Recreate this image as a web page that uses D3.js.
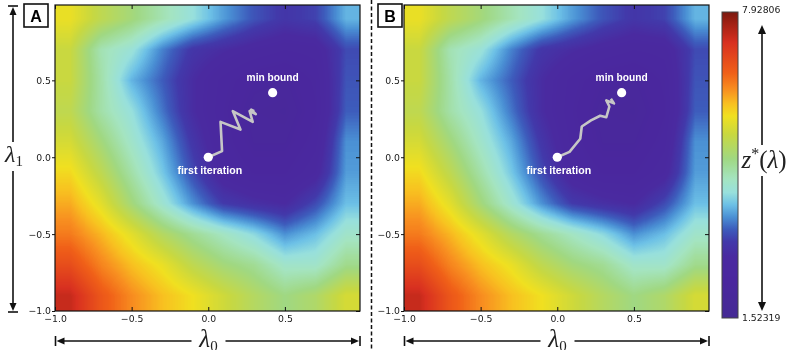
<!DOCTYPE html>
<html>
<head>
<meta charset="utf-8">
<script src="https://cdn.jsdelivr.net/npm/d3@7"></script>
<style>
  body { margin: 0; background: #fff; }
  #chart { position: relative; width: 788px; height: 350px; }
  #chart canvas, #chart svg { position: absolute; left: 0; top: 0; }
</style>
</head>
<body>
<div id="chart"></div>
<script>
// grid cell centres: lambda_0 left to right, lambda_1 top to bottom
const lambda0 = [-0.9, -0.7, -0.5, -0.3, -0.1, 0.1, 0.3, 0.5, 0.7, 0.9];
const lambda1 = [0.9, 0.7, 0.5, 0.3, 0.1, -0.1, -0.3, -0.5, -0.7, -0.9];

// z*(lambda), one row per lambda1 value
const zGrid = [
  [5.69, 5.24, 4.92, 4.53, 4.15, 3.70, 3.32, 3.06, 3.19, 3.83],
  [5.37, 4.53, 4.21, 3.57, 3.06, 2.86, 2.68, 2.55, 2.61, 3.25],
  [5.37, 4.60, 3.83, 3.38, 2.86, 2.48, 2.23, 2.16, 2.42, 3.32],
  [5.24, 4.60, 4.15, 3.51, 2.86, 2.42, 2.10, 2.04, 2.36, 3.38],
  [5.49, 4.92, 4.34, 3.77, 3.06, 2.48, 2.16, 2.16, 2.48, 3.64],
  [5.81, 5.24, 4.60, 3.96, 3.25, 2.61, 2.36, 2.36, 2.68, 3.70],
  [6.13, 5.62, 4.92, 4.28, 3.64, 3.12, 2.93, 2.80, 3.25, 3.89],
  [6.45, 6.07, 5.62, 5.11, 4.73, 4.41, 4.08, 3.64, 3.89, 4.34],
  [6.90, 6.39, 6.01, 5.69, 5.24, 4.92, 4.73, 4.34, 4.34, 4.79],
  [7.42, 6.78, 6.33, 6.01, 5.75, 5.43, 5.11, 4.85, 5.05, 5.49]
];
const zRange = [1.52319, 7.92806];
const tickValues = [-1.0, -0.5, 0.0, 0.5];

const firstIteration = [0, 0];
const minBound = [0.42, 0.42];

// optimisation paths (lambda0, lambda1)
const pathA0 = [0, 0.09, 0.08, 0.21, 0.16, 0.29, 0.27, 0.31, 0.28, 0.30];
const pathA1 = [0, 0.04, 0.23, 0.18, 0.30, 0.23, 0.30, 0.28, 0.31, 0.30];
const pathB0 = [0, 0.08, 0.15, 0.16, 0.22, 0.28, 0.32, 0.34, 0.32, 0.37, 0.35];
const pathB1 = [0, 0.035, 0.12, 0.20, 0.24, 0.27, 0.26, 0.33, 0.37, 0.35, 0.38];

// colour map (fraction of the colour bar, colour)
const cmapT = [0, 0.12, 0.20, 0.25, 0.29, 0.33, 0.37, 0.41, 0.455, 0.52, 0.60, 0.66, 0.70, 0.745, 0.80, 0.90, 0.97, 1];
const cmapColors = ["#452a94", "#4a279e", "#4a2aa0", "#4239aa", "#3d5cbc", "#4a90d4", "#6cc0e6",
                    "#98e0dc", "#a4e4c0", "#a0d882", "#c8d840", "#f0e020", "#f8c020", "#f89020",
                    "#f06018", "#d83020", "#9a1e12", "#7a1a10"];

const width = 788, height = 350;
const plotW = 305, plotTop = 5, plotBottom = 311;
const panels = [
  { label: "A", left: 55, boxX: 24, path: [pathA0, pathA1], yTitle: true },
  { label: "B", left: 404, boxX: 378, path: [pathB0, pathB1], yTitle: false }
];

const color = d3.scaleLinear()
  .domain(cmapT.map(t => zRange[0] + t * (zRange[1] - zRange[0])))
  .range(cmapColors)
  .clamp(true);

const root = d3.select("#chart");
const canvas = root.append("canvas").attr("width", width).attr("height", height);
const ctx = canvas.node().getContext("2d");
const svg = root.append("svg").attr("width", width).attr("height", height);

const lut = d3.range(512).map(i => d3.rgb(color(zRange[0] + i / 511 * (zRange[1] - zRange[0]))));
const ix = d3.scaleLinear().domain([lambda0[0], lambda0[lambda0.length - 1]]).range([0, lambda0.length - 1]).clamp(true);
const iy = d3.scaleLinear().domain([lambda1[0], lambda1[lambda1.length - 1]]).range([0, lambda1.length - 1]).clamp(true);

function zAt(l0, l1) {
  const fx = ix(l0), fy = iy(l1);
  const i = Math.min(Math.floor(fx), lambda0.length - 2);
  const j = Math.min(Math.floor(fy), lambda1.length - 2);
  const tx = fx - i, ty = fy - j;
  const top = zGrid[j][i] * (1 - tx) + zGrid[j][i + 1] * tx;
  const bot = zGrid[j + 1][i] * (1 - tx) + zGrid[j + 1][i + 1] * tx;
  return top * (1 - ty) + bot * ty;
}

function arrowHead(g, x, y, dx, dy, len, hw) {
  const px = -dy, py = dx;
  g.append("path")
    .attr("d", `M${x},${y}L${x - dx * len + px * hw},${y - dy * len + py * hw}L${x - dx * len - px * hw},${y - dy * len - py * hw}Z`)
    .attr("fill", "#111");
}

// line from (x1,y1) to (x2,y2) with a head at the far end, optional end bar
function arrow(g, x1, y1, x2, y2, bar, len, hw) {
  const d = Math.hypot(x2 - x1, y2 - y1), dx = (x2 - x1) / d, dy = (y2 - y1) / d;
  g.append("line")
    .attr("x1", x1).attr("y1", y1)
    .attr("x2", x2 - dx * len * 0.6).attr("y2", y2 - dy * len * 0.6)
    .attr("stroke", "#111").attr("stroke-width", 1.6);
  arrowHead(g, x2, y2, dx, dy, len, hw);
  if (bar) {
    g.append("line")
      .attr("x1", x2 + dx * 1 - dy * 5).attr("y1", y2 + dy * 1 + dx * 5)
      .attr("x2", x2 + dx * 1 + dy * 5).attr("y2", y2 + dy * 1 - dx * 5)
      .attr("stroke", "#111").attr("stroke-width", 1.6);
  }
}

const fmt = d3.format(".1f");

panels.forEach(p => {
  const x = d3.scaleLinear().domain([-1, 0.99]).range([p.left, p.left + plotW]);
  const y = d3.scaleLinear().domain([-1, 0.99]).range([plotBottom, plotTop]);

  // heat map
  const w = plotW, h = plotBottom - plotTop;
  const img = ctx.createImageData(w, h);
  for (let r = 0; r < h; r++) {
    for (let c = 0; c < w; c++) {
      const v = zAt(x.invert(p.left + c + 0.5), y.invert(plotTop + r + 0.5));
      const k = Math.max(0, Math.min(511, Math.round((v - zRange[0]) / (zRange[1] - zRange[0]) * 511)));
      const col = lut[k];
      const o = (r * w + c) * 4;
      img.data[o] = col.r; img.data[o + 1] = col.g; img.data[o + 2] = col.b; img.data[o + 3] = 255;
    }
  }
  ctx.putImageData(img, p.left, plotTop);

  const g = svg.append("g");

  // axes
  const styleAxis = a => {
    a.select(".domain").remove();
    a.attr("font-family", "DejaVu Sans").attr("font-size", 9.3).attr("color", "#111");
    a.selectAll("text").attr("fill", "#1a1a1a");
  };
  g.append("g").attr("transform", `translate(0,${plotBottom})`)
    .call(d3.axisBottom(x).tickValues(tickValues).tickFormat(fmt).tickSize(-4).tickPadding(4.3))
    .call(styleAxis);
  g.append("g").attr("transform", `translate(${p.left},0)`)
    .call(d3.axisLeft(y).tickValues(tickValues).tickFormat(fmt).tickSize(3).tickPadding(1))
    .call(styleAxis);
  g.append("g").attr("transform", `translate(0,${plotTop})`)
    .call(d3.axisTop(x).tickValues(tickValues).tickFormat("").tickSize(-4))
    .call(styleAxis);
  g.append("g").attr("transform", `translate(${p.left + plotW},0)`)
    .call(d3.axisRight(y).tickValues(tickValues).tickFormat("").tickSize(-4))
    .call(styleAxis);

  g.append("rect")
    .attr("x", p.left).attr("y", plotTop)
    .attr("width", plotW).attr("height", plotBottom - plotTop)
    .attr("fill", "none").attr("stroke", "#111").attr("stroke-width", 1.2);

  // optimisation path
  const [p0, p1] = p.path;
  g.append("path")
    .datum(d3.range(p0.length))
    .attr("d", d3.line().x(i => x(p0[i])).y(i => y(p1[i])))
    .attr("fill", "none").attr("stroke", "#c6c6c6")
    .attr("stroke-width", 2.6).attr("stroke-linejoin", "round");

  g.selectAll("circle.pt")
    .data([firstIteration, minBound])
    .join("circle").attr("class", "pt")
    .attr("cx", d => x(d[0])).attr("cy", d => y(d[1]))
    .attr("r", 4.6).attr("fill", "#fff");

  const ann = g.append("g")
    .attr("font-family", "Liberation Sans, Arial, sans-serif")
    .attr("font-weight", "bold").attr("fill", "#fff")
    .attr("text-anchor", "middle");
  ann.append("text")
    .attr("x", x(minBound[0])).attr("y", y(minBound[1]) - 11.5)
    .attr("font-size", 10.2).text("min bound");
  ann.append("text")
    .attr("x", x(firstIteration[0]) + 1.5).attr("y", y(firstIteration[1]) + 17)
    .attr("font-size", 10.6).text("first iteration");

  // panel letter
  g.append("rect")
    .attr("x", p.boxX).attr("y", 4).attr("width", 24).attr("height", 23)
    .attr("fill", "#fff").attr("stroke", "#111").attr("stroke-width", 1.6);
  g.append("text")
    .attr("x", p.boxX + 12).attr("y", 21.5)
    .attr("text-anchor", "middle")
    .attr("font-family", "Liberation Sans, Arial, sans-serif")
    .attr("font-weight", "bold").attr("font-size", 16)
    .text(p.label);

  // lambda_0 arrow
  const cx = (x.range()[0] + x.range()[1]) / 2;
  arrow(g, cx - 16, 341, x.range()[0] + 1.5, 341, true, 8, 3.5);
  arrow(g, cx + 18, 341, x.range()[1] - 1, 341, true, 8, 3.5);
  const t0 = g.append("text")
    .attr("x", cx + 1).attr("y", 347)
    .attr("text-anchor", "middle")
    .attr("font-family", "Liberation Serif, DejaVu Serif, serif")
    .attr("font-size", 25).attr("fill", "#222");
  t0.append("tspan").attr("font-style", "italic").text("λ");
  t0.append("tspan").attr("font-size", 15).attr("dy", 4).text("0");

  if (p.yTitle) {
    arrow(g, 13, 142, 13, plotTop + 2, true, 8, 3.5);
    arrow(g, 13, 171, 13, plotBottom, true, 8, 3.5);
    const t1 = g.append("text")
      .attr("x", 14).attr("y", 162)
      .attr("text-anchor", "middle")
      .attr("font-family", "Liberation Serif, DejaVu Serif, serif")
      .attr("font-size", 24).attr("fill", "#222");
    t1.append("tspan").attr("font-style", "italic").text("λ");
    t1.append("tspan").attr("font-size", 15).attr("dy", 4).text("1");
  }
});

// dashed separator
svg.append("line")
  .attr("x1", 371.5).attr("x2", 371.5).attr("y1", 0).attr("y2", height)
  .attr("stroke", "#111").attr("stroke-width", 1.5)
  .attr("stroke-dasharray", "4,2.5");

// colour bar
const cbX = 722, cbW = 16;
const cbY = d3.scaleLinear().domain(zRange).range([318, 12]);
const grad = svg.append("defs").append("linearGradient")
  .attr("id", "cb").attr("x1", 0).attr("x2", 0).attr("y1", 1).attr("y2", 0);
grad.selectAll("stop")
  .data(d3.range(0, 1.0001, 0.01))
  .join("stop")
  .attr("offset", t => t)
  .attr("stop-color", t => color(zRange[0] + t * (zRange[1] - zRange[0])));
svg.append("rect")
  .attr("x", cbX).attr("y", cbY(zRange[1]))
  .attr("width", cbW).attr("height", cbY(zRange[0]) - cbY(zRange[1]))
  .attr("fill", "url(#cb)").attr("stroke", "#444").attr("stroke-width", 1);
const cbFmt = d3.format(".5f");
svg.selectAll("text.cbl")
  .data(zRange)
  .join("text").attr("class", "cbl")
  .attr("x", cbX + cbW + 4).attr("y", d => cbY(d))
  .attr("dy", d => d === zRange[1] ? "0.15em" : "0.35em")
  .attr("font-family", "DejaVu Sans").attr("font-size", 9.3).attr("fill", "#1a1a1a")
  .text(d => cbFmt(d));

const cbg = svg.append("g");
arrow(cbg, 762, 145, 762, 25, false, 9, 4);
arrow(cbg, 762, 176, 762, 311, false, 9, 4);
const zl = cbg.append("text")
  .attr("x", 764).attr("y", 168)
  .attr("text-anchor", "middle")
  .attr("font-family", "Liberation Serif, DejaVu Serif, serif")
  .attr("font-size", 25).attr("fill", "#222");
zl.append("tspan").attr("font-style", "italic").text("z");
zl.append("tspan").attr("font-size", 16).attr("dy", -9).text("*");
zl.append("tspan").attr("dy", 9).text("(");
zl.append("tspan").attr("font-style", "italic").text("λ");
zl.append("tspan").text(")");
</script>
</body>
</html>
